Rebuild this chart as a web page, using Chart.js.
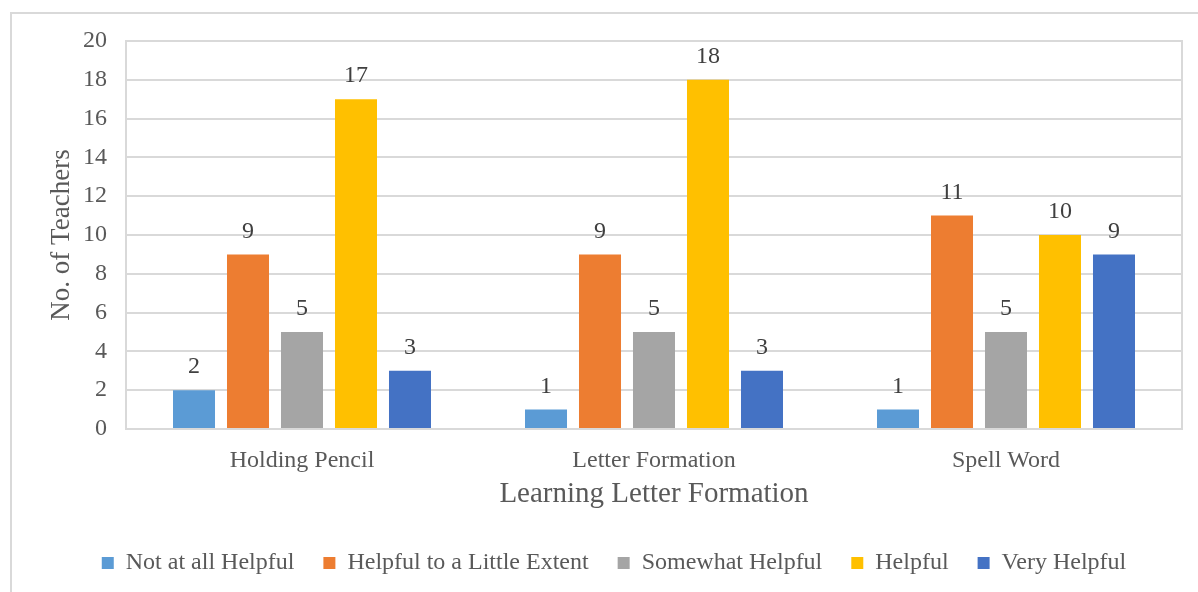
<!DOCTYPE html>
<html>
<head>
<meta charset="utf-8">
<script src="https://cdn.jsdelivr.net/npm/chart.js@4/dist/chart.umd.min.js"></script>
<style>
  html, body { margin: 0; padding: 0; background: #fff; overflow: hidden; }
  .frame { position: absolute; left: 10px; top: 12px; width: 1220px; height: 620px; border: 2px solid #d9d9d9; }
  .wrap { position: absolute; left: 0; top: 0; width: 1198px; height: 592px; }
</style>
</head>
<body>
<div class="frame"></div>
<div class="wrap"><canvas id="teachersChart"></canvas></div>
<script>
const categories = ['Holding Pencil', 'Letter Formation', 'Spell Word'];
const notAtAllHelpful = [2, 1, 1];
const littleExtent = [9, 9, 11];
const somewhatHelpful = [5, 5, 5];
const helpful = [17, 18, 10];
const veryHelpful = [3, 3, 9];
const yTicks = [0, 2, 4, 6, 8, 10, 12, 14, 16, 18, 20];

const serif = "'Liberation Serif', 'Times New Roman', serif";
const textGrey = '#595959';

// value above each bar
const barValues = {
  id: 'barValues',
  afterDatasetsDraw(chart) {
    const ctx = chart.ctx;
    ctx.save();
    ctx.font = '24px ' + serif;
    ctx.fillStyle = '#404040';
    ctx.textAlign = 'center';
    ctx.textBaseline = 'middle';
    chart.data.datasets.forEach((ds, i) => {
      chart.getDatasetMeta(i).data.forEach((bar, j) => {
        ctx.fillText(String(ds.data[j]), bar.x, bar.y - 23);
      });
    });
    ctx.restore();
  }
};

// box round the plot area
const plotBorder = {
  id: 'plotBorder',
  beforeDatasetsDraw(chart) {
    const a = chart.chartArea;
    const ctx = chart.ctx;
    ctx.save();
    ctx.strokeStyle = '#d9d9d9';
    ctx.lineWidth = 2;
    ctx.strokeRect(a.left, a.top, a.right - a.left, a.bottom - a.top);
    ctx.restore();
  }
};

const ctx = document.getElementById('teachersChart').getContext('2d');
const teachersChart = new Chart(ctx, {
  type: 'bar',
  data: {
    labels: categories,
    datasets: [
      { label: 'Not at all Helpful', data: notAtAllHelpful, backgroundColor: '#5B9BD5' },
      { label: 'Helpful to a Little Extent', data: littleExtent, backgroundColor: '#ED7D31' },
      { label: 'Somewhat Helpful', data: somewhatHelpful, backgroundColor: '#A5A5A5' },
      { label: 'Helpful', data: helpful, backgroundColor: '#FFC000' },
      { label: 'Very Helpful', data: veryHelpful, backgroundColor: '#4472C4' },
    ],
  },
  options: {
    responsive: true,
    maintainAspectRatio: false,
    animation: false,
    datasets: {
      bar: { categoryPercentage: 0.767, barPercentage: 0.778 }
    },
    layout: { padding: { left: 46, top: 41, right: 16, bottom: 7 } },
    scales: {
      x: {
        grid: { display: false, drawTicks: false },
        border: { display: false },
        ticks: { color: textGrey, font: { family: serif, size: 24 }, padding: 17 },
        title: {
          display: true,
          text: 'Learning Letter Formation',
          color: textGrey,
          font: { family: serif, size: 29 },
          padding: 10,
        },
        afterFit(scale) { scale.height = 93; },
      },
      y: {
        min: 0,
        max: 20,
        afterBuildTicks(scale) { scale.ticks = yTicks.map(v => ({ value: v })); },
        grid: { color: '#d9d9d9', lineWidth: 2, drawTicks: false },
        border: { display: false },
        ticks: { color: textGrey, font: { family: serif, size: 24 }, padding: 19 },
        title: {
          display: true,
          text: 'No. of Teachers',
          color: textGrey,
          font: { family: serif, size: 27 },
          padding: 0,
        },
        afterFit(scale) { scale.width = 80; },
      },
    },
    plugins: {
      legend: {
        position: 'bottom',
        labels: {
          color: textGrey,
          font: { family: serif, size: 24 },
          boxWidth: 12,
          boxHeight: 12,
          padding: 29,
        },
      },
      tooltip: { enabled: false },
    },
  },
  plugins: [plotBorder, barValues],
});
</script>
</body>
</html>
